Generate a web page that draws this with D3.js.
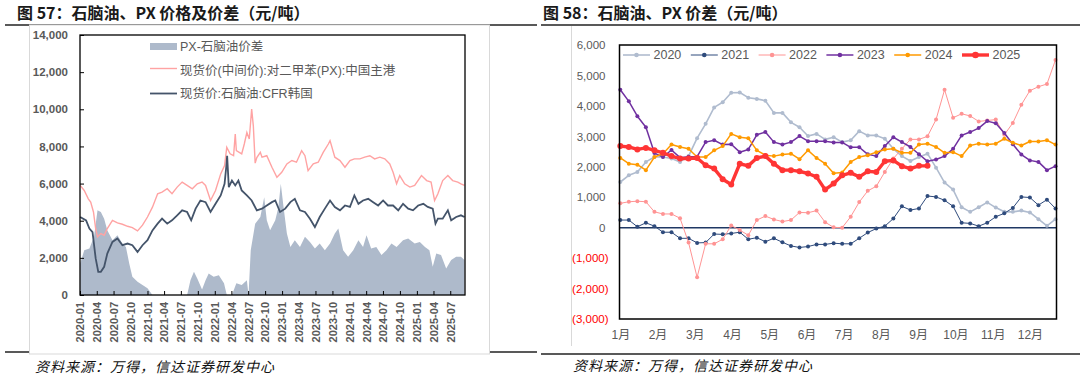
<!DOCTYPE html>
<html lang="zh">
<head>
<meta charset="UTF-8">
<title>石脑油、PX 价格及价差</title>
<style>
    body { margin: 0; background: #fff; }
    svg { display: block; font-family: "Liberation Sans", "Noto Sans CJK SC", sans-serif; }
    .title { font-family: "Noto Sans CJK SC", sans-serif; font-weight: bold; font-size: 16px; fill: #1a1a1a; }
    .source { font-family: "Noto Sans CJK SC", sans-serif; font-style: italic; font-size: 14px; fill: #111; letter-spacing: 1px; }
    .legend { font-size: 12.5px; fill: #595959; }
</style>
</head>
<body>
<svg id="chart" width="1088" height="379"></svg>

<script src="https://d3js.org/d3.v7.min.js"></script>
<script>
// ---------- left chart data (元/吨) ----------
const pxSpread = [
    ["2020-01-02",1700],["2020-01-24",2410],["2020-02-21",2500],["2020-03-17",3130],["2020-04-05",4560],
    ["2020-04-23",4470],["2020-05-11",4110],["2020-05-28",3480],["2020-06-25",2950],["2020-07-22",3220],
    ["2020-08-18",2770],["2020-09-06",2590],["2020-09-24",1700],["2020-10-11",980],["2020-11-08",710],
    ["2020-12-05",540],["2021-01-01",360],["2021-01-28",0],["2021-08-04",0],["2021-08-22",800],
    ["2021-09-10",1250],["2021-09-28",890],["2021-10-24",300],["2021-11-12",800],["2021-11-29",1160],
    ["2021-12-26",980],["2022-01-23",1070],["2022-02-20",630],["2022-03-07",0],["2022-04-04",0],
    ["2022-04-28",630],["2022-05-27",540],["2022-06-24",800],["2022-07-03",0],["2022-07-15",2410],
    ["2022-08-08",3840],["2022-09-05",4200],["2022-09-26",5270],["2022-10-10",4020],["2022-10-28",3480],
    ["2022-11-25",4020],["2022-12-12",4730],["2022-12-25",5990],["2023-01-09",4730],["2023-01-27",3310],
    ["2023-02-15",2590],["2023-03-11",2950],["2023-04-08",2590],["2023-05-05",3130],["2023-06-01",2860],
    ["2023-06-28",2500],["2023-07-24",2770],["2023-08-21",2410],["2023-09-18",2770],["2023-10-14",3310],
    ["2023-11-02",3580],["2023-11-28",2410],["2023-12-25",2060],["2024-01-22",2410],["2024-02-19",2950],
    ["2024-03-15",2590],["2024-04-03",3220],["2024-04-28",2500],["2024-05-26",2590],["2024-06-23",2150],
    ["2024-07-20",2410],["2024-08-16",2770],["2024-09-13",2590],["2024-10-18",2950],["2024-11-15",3040],
    ["2024-12-20",2770],["2025-01-17",2860],["2025-02-14",2590],["2025-03-10",2410],["2025-03-28",1520],
    ["2025-04-16",2230],["2025-05-12",2150],["2025-06-09",1430],["2025-07-06",1880],["2025-08-02",2060],
    ["2025-08-28",2060],["2025-09-16",1880]
];
const pxPrice = [
    ["2020-01-02",5900],["2020-01-24",5630],["2020-02-15",5180],["2020-02-28",5000],["2020-03-14",4470],
    ["2020-03-26",3580],["2020-04-05",3130],["2020-04-23",3310],["2020-05-11",3220],["2020-05-28",3580],
    ["2020-06-25",4020],["2020-07-22",3880],["2020-08-18",3810],["2020-09-15",3700],["2020-10-11",3630],
    ["2020-11-08",3450],["2020-12-05",3760],["2021-01-01",4200],["2021-01-28",4730],["2021-02-25",5450],
    ["2021-03-21",5540],["2021-04-18",5720],["2021-05-14",5450],["2021-06-11",5810],["2021-07-08",6080],
    ["2021-08-04",5900],["2021-09-01",5720],["2021-09-28",5990],["2021-10-24",6080],["2021-11-12",5900],
    ["2021-12-09",5090],["2022-01-05",5630],["2022-02-02",6520],["2022-02-23",6970],["2022-03-07",7950],
    ["2022-03-25",7600],["2022-04-13",7500],["2022-04-22",8670],["2022-04-28",7770],["2022-05-27",7600],
    ["2022-06-10",8130],["2022-06-24",8750],["2022-07-07",8400],["2022-07-20",10010],["2022-07-29",9110],
    ["2022-08-08",7100],["2022-08-17",7400],["2022-09-05",7680],["2022-09-14",7420],["2022-10-10",7500],
    ["2022-11-07",6880],["2022-12-04",6340],["2022-12-30",6610],["2023-01-27",7060],["2023-02-23",7240],
    ["2023-03-20",7150],["2023-04-17",7770],["2023-05-05",7500],["2023-05-22",6700],["2023-06-19",7060],
    ["2023-07-16",7150],["2023-08-12",7680],["2023-09-09",8130],["2023-09-18",8310],["2023-10-14",7420],
    ["2023-11-11",7240],["2023-12-08",6880],["2024-01-04",7240],["2024-01-28",7330],["2024-02-27",7330],
    ["2024-03-24",7420],["2024-04-21",7500],["2024-05-17",7330],["2024-06-14",7420],["2024-07-11",7330],
    ["2024-08-07",7060],["2024-08-25",6610],["2024-09-13",5990],["2024-09-30",6430],["2024-10-27",5990],
    ["2024-11-24",5810],["2024-12-20",5900],["2025-01-26",6430],["2025-02-23",6160],["2025-03-19",6080],
    ["2025-04-07",5090],["2025-04-25",5450],["2025-05-21",6160],["2025-06-18",6430],["2025-07-14",6160],
    ["2025-08-11",6080],["2025-08-28",5990],["2025-09-16",5900]
];
const naphthaPrice = [
    ["2020-01-02",4200],["2020-02-03",4020],["2020-02-21",3580],["2020-03-09",3390],["2020-03-26",1970],
    ["2020-04-09",1250],["2020-04-23",1250],["2020-05-11",1520],["2020-05-28",2230],["2020-06-25",2860],
    ["2020-07-22",3040],["2020-08-18",2680],["2020-09-15",2770],["2020-10-11",2680],["2020-11-08",2320],
    ["2020-12-05",2680],["2021-01-01",2950],["2021-01-28",3480],["2021-02-25",3840],["2021-03-21",4110],
    ["2021-04-18",3840],["2021-05-14",4020],["2021-06-11",4290],["2021-07-08",4560],["2021-08-04",4470],
    ["2021-08-26",4020],["2021-09-19",4650],["2021-10-15",5090],["2021-11-12",5000],["2021-12-09",4470],
    ["2022-01-05",4910],["2022-02-02",5360],["2022-02-23",5990],["2022-03-04",6880],["2022-03-09",7500],
    ["2022-03-18",5810],["2022-04-04",6160],["2022-04-22",5900],["2022-05-09",6160],["2022-05-27",5630],
    ["2022-06-24",5360],["2022-07-20",5090],["2022-08-17",4560],["2022-09-14",4650],["2022-10-10",4820],
    ["2022-11-07",5000],["2022-11-25",5090],["2022-12-21",4470],["2023-01-18",4650],["2023-02-15",5000],
    ["2023-03-11",5180],["2023-04-08",4560],["2023-05-05",4470],["2023-06-01",4110],["2023-06-28",3660],
    ["2023-07-24",4200],["2023-08-21",4650],["2023-09-18",5090],["2023-10-14",4740],["2023-11-11",4560],
    ["2023-12-08",4820],["2024-01-04",4740],["2024-01-28",5360],["2024-02-19",4910],["2024-03-15",5090],
    ["2024-04-12",5180],["2024-05-09",5000],["2024-06-05",4820],["2024-07-02",5090],["2024-07-28",4820],
    ["2024-08-25",4820],["2024-09-22",4560],["2024-10-18",4910],["2024-11-15",4650],["2024-12-11",4560],
    ["2025-01-08",4820],["2025-02-05",4910],["2025-03-01",4740],["2025-03-28",4650],["2025-04-12",3840],
    ["2025-04-25",4110],["2025-05-21",4110],["2025-06-18",4560],["2025-07-06",4020],["2025-08-02",4200],
    ["2025-08-28",4290],["2025-09-16",4200]
];
const leftLegend = ["PX-石脑油价差", "现货价(中间价):对二甲苯(PX):中国主港", "现货价:石脑油:CFR韩国"];

// ---------- right chart data: weekly PX-naphtha spread by year ----------
const monthLabels = ["1月","2月","3月","4月","5月","6月","7月","8月","9月","10月","11月","12月"];
const years = ["2020","2021","2022","2023","2024","2025"];
const s2020 = [1500,1720,1830,2160,2320,2320,2270,2160,2350,2940,3410,3950,4120,4430,4440,4270,4230,4170,3770,3770,
               3460,3300,3010,3080,2900,2970,2810,2870,3170,3030,3030,2920,2590,2350,2190,2320,2430,1970,1480,1250,
               670,520,670,830,660,520,520,560,500,280,60,280];
const s2021 = [250,250,30,160,50,-150,-150,-350,-350,-500,-490,-210,-220,-190,-150,-380,-330,-460,-350,-480,
               -600,-650,-620,-550,-550,-510,-530,-530,-350,-160,-30,50,300,700,580,630,1040,1010,900,700,
               160,140,50,160,360,470,650,1010,990,740,920,630];
const s2022 = [800,850,870,850,520,450,450,310,-490,-1630,-530,-530,-380,70,-80,-250,250,380,270,200,
               250,500,490,560,180,10,0,360,840,1210,1360,1830,2270,2590,2900,2900,3000,3550,4530,3610,
               3740,3670,3490,3520,3550,3050,3440,4040,4500,4630,4720,5510];
const s2023 = [4530,4150,3660,3300,2450,2320,2550,2300,2330,2330,2810,2870,2730,2740,2480,2570,3050,3140,2810,2730,
               2810,3010,2840,2840,2840,2800,2800,2640,2640,2410,2350,2680,2970,2810,2650,2410,2180,2240,2350,2590,
               3030,3140,3270,3500,3430,3110,2740,2400,2210,2160,1890,2020];
const s2024 = [2290,2100,2070,1890,2320,2430,2730,2650,2590,2320,2320,2540,2680,3080,2970,2940,2540,2380,2350,2400,
               2430,2250,2540,2290,2100,1790,1810,2160,2320,2380,2480,2570,2590,2460,2460,2730,2760,2650,2460,2480,
               2350,2700,2760,2730,2760,2920,2790,2700,2830,2830,2870,2730];
const s2025 = [2680,2650,2570,2620,2540,2460,2350,2270,2270,2290,2050,1940,1590,1420,2100,2030,2290,2350,2100,1890,
               1890,1850,1780,1670,1250,1450,1720,1800,1670,1850,1830,2180,2210,2020,1940,2030,2030];
const yearSeries = [s2020, s2021, s2022, s2023, s2024, s2025];

// ---------- drawing ----------
const svg = d3.select("#chart");
const parse = d3.timeParse("%Y-%m-%d");
const grey = "#595959";

// header rules and frames
svg.append("line").attr("x1", 5).attr("x2", 537).attr("y1", 25).attr("y2", 25).attr("stroke", "#222").attr("stroke-width", 1.3);
svg.append("line").attr("x1", 5).attr("x2", 537).attr("y1", 352).attr("y2", 352).attr("stroke", "#222").attr("stroke-width", 1.3);
svg.append("line").attr("x1", 541).attr("x2", 1080).attr("y1", 25).attr("y2", 25).attr("stroke", "#222").attr("stroke-width", 1.3);
svg.append("line").attr("x1", 541).attr("x2", 1080).attr("y1", 354).attr("y2", 354).attr("stroke", "#222").attr("stroke-width", 1.3);
svg.append("rect").attr("x", 29.5).attr("y", 25).attr("width", 460).attr("height", 329)
    .attr("fill", "#fff").attr("stroke", "#d9d9d9");
svg.append("line").attr("x1", 571.5).attr("x2", 571.5).attr("y1", 26).attr("y2", 346).attr("stroke", "#d9d9d9");

svg.append("text").attr("class", "title").attr("x", 17).attr("y", 19).text("图 57：石脑油、PX 价格及价差（元/吨）");
svg.append("text").attr("class", "title").attr("x", 543).attr("y", 19).text("图 58：石脑油、PX 价差（元/吨）");
svg.append("text").attr("class", "source").attr("x", 35).attr("y", 372).text("资料来源：万得，信达证券研发中心");
svg.append("text").attr("class", "source").attr("x", 573).attr("y", 371).text("资料来源：万得，信达证券研发中心");

// ===== left chart =====
const L = { left: 80, right: 465, top: 35, bottom: 295 };
const xL = d3.scaleTime().domain([parse("2020-01-01"), parse("2025-09-19")]).range([L.left, L.right]);
const yL = d3.scaleLinear().domain([0, 14000]).range([L.bottom, L.top]);
const toPts = arr => arr.map(d => ({ date: parse(d[0]), v: d[1] }));

const gL = svg.append("g");
gL.append("path")
    .datum(toPts(pxSpread))
    .attr("fill", "#aebacb")
    .attr("d", d3.area().x(d => xL(d.date)).y0(yL(0)).y1(d => yL(d.v)));
gL.append("path")
    .datum(toPts(pxPrice))
    .attr("fill", "none").attr("stroke", "#ffa3a3").attr("stroke-width", 1.4)
    .attr("d", d3.line().x(d => xL(d.date)).y(d => yL(d.v)));
gL.append("path")
    .datum(toPts(naphthaPrice))
    .attr("fill", "none").attr("stroke", "#44546a").attr("stroke-width", 1.8)
    .attr("d", d3.line().x(d => xL(d.date)).y(d => yL(d.v)));

gL.append("rect").attr("x", L.left).attr("y", L.top)
    .attr("width", L.right - L.left).attr("height", L.bottom - L.top)
    .attr("fill", "none").attr("stroke", "#000").attr("stroke-width", 1.3);

const yAxisL = gL.append("g").attr("transform", `translate(${L.left},0)`)
    .call(d3.axisLeft(yL).tickValues(d3.range(0, 14001, 2000)).tickFormat(d3.format(","))
        .tickSizeInner(-4).tickSizeOuter(0).tickPadding(12));
yAxisL.select(".domain").remove();
yAxisL.selectAll("line").attr("stroke", "#000");
yAxisL.selectAll("text").attr("fill", grey).attr("font-weight", "bold").attr("font-size", "11.5px")
    .attr("font-family", "Liberation Sans, sans-serif");

const quarterTicks = d3.timeMonth.every(3).range(parse("2020-01-01"), parse("2025-08-01"));
const xAxisL = gL.append("g").attr("transform", `translate(0,${L.bottom})`)
    .call(d3.axisBottom(xL).tickValues(quarterTicks).tickFormat(d3.timeFormat("%Y-%m"))
        .tickSizeInner(-4).tickSizeOuter(0));
xAxisL.select(".domain").remove();
xAxisL.selectAll("line").attr("stroke", "#000");
xAxisL.selectAll("text")
    .attr("transform", "rotate(-90)").attr("text-anchor", "end")
    .attr("x", -7).attr("y", 0).attr("dy", "0.35em")
    .attr("fill", grey).attr("font-weight", "bold").attr("font-size", "11px")
    .attr("font-family", "Liberation Sans, sans-serif");

// left legend
const lg = gL.append("g").attr("class", "legend");
lg.append("rect").attr("x", 150).attr("y", 43).attr("width", 27).attr("height", 7).attr("fill", "#aebacb");
lg.append("line").attr("x1", 150).attr("x2", 177).attr("y1", 68.5).attr("y2", 68.5).attr("stroke", "#ffa3a3").attr("stroke-width", 1.4);
lg.append("line").attr("x1", 150).attr("x2", 177).attr("y1", 93.5).attr("y2", 93.5).attr("stroke", "#44546a").attr("stroke-width", 1.8);
lg.selectAll("text").data(leftLegend).join("text")
    .attr("x", 180).attr("y", (d, i) => 47 + i * 23.3).attr("dy", "0.35em").text(d => d);

// ===== right chart =====
const R = { left: 619.5, right: 1056.5, top: 45, bottom: 319 };
const xR = d3.scaleLinear().domain([0, 51]).range([620.3, 1055.5]);
const yR = d3.scaleLinear().domain([-3000, 6000]).range([R.bottom, R.top]);
const gR = svg.append("g");

const styles = [
    { color: "#b0bccf", width: 1.6, r: 2 },
    { color: "#2f4b7c", width: 1, r: 2 },
    { color: "#ff9494", width: 1, r: 2 },
    { color: "#7030a0", width: 1.5, r: 2 },
    { color: "#ff9a00", width: 1.5, r: 2 },
    { color: "#ff3535", width: 3.4, r: 3 }
];

gR.append("line").attr("x1", R.left).attr("x2", R.right)
    .attr("y1", yR(0)).attr("y2", yR(0)).attr("stroke", "#1f3864").attr("stroke-width", 1.5);

const lineR = d3.line().x((d, i) => xR(i)).y(d => yR(d));
yearSeries.forEach((vals, k) => {
    const st = styles[k];
    gR.append("path").datum(vals)
        .attr("fill", "none").attr("stroke", st.color).attr("stroke-width", st.width)
        .attr("stroke-linejoin", "round").attr("d", lineR);
    gR.append("g").selectAll("circle").data(vals).join("circle")
        .attr("cx", (d, i) => xR(i)).attr("cy", d => yR(d)).attr("r", st.r).attr("fill", st.color);
});

gR.append("rect").attr("x", R.left).attr("y", R.top)
    .attr("width", R.right - R.left).attr("height", R.bottom - R.top)
    .attr("fill", "none").attr("stroke", "#000").attr("stroke-width", 1.5);

const fmt = d3.format(",");
const yAxisR = gR.append("g").attr("transform", `translate(${R.left},0)`)
    .call(d3.axisLeft(yR).tickValues(d3.range(-3000, 6001, 1000))
        .tickFormat(v => v < 0 ? "(" + fmt(-v) + ")" : fmt(v))
        .tickSize(0).tickPadding(14));
yAxisR.select(".domain").remove();
yAxisR.selectAll("text")
    .attr("font-size", "11.5px")
    .attr("fill", d => d < 0 ? "#ff0000" : grey)
    .attr("x", d => d < 0 ? -11 : -14);

const xAxisR = gR.append("g").attr("transform", `translate(0,${R.bottom})`)
    .call(d3.axisBottom(xR).tickValues(d3.range(12).map(i => i * 48 / 11))
        .tickFormat((d, i) => monthLabels[i]).tickSize(0).tickPadding(11));
xAxisR.select(".domain").remove();
xAxisR.selectAll("text").attr("font-size", "12px").attr("fill", grey)
    .attr("font-family", "Liberation Sans, Noto Sans CJK SC, sans-serif");

// right legend
years.forEach((name, k) => {
    const st = styles[k];
    const g = gR.append("g").attr("transform", `translate(${623 + k * 67.8},55)`);
    g.append("line").attr("x1", 0).attr("x2", 27).attr("stroke", st.color).attr("stroke-width", st.width);
    g.append("circle").attr("cx", 13.5).attr("r", st.r + 0.3).attr("fill", st.color);
    g.append("text").attr("class", "legend").attr("x", 30.5).attr("dy", "0.35em").attr("font-size", "12.5px").text(name);
});
</script>
</body>
</html>
